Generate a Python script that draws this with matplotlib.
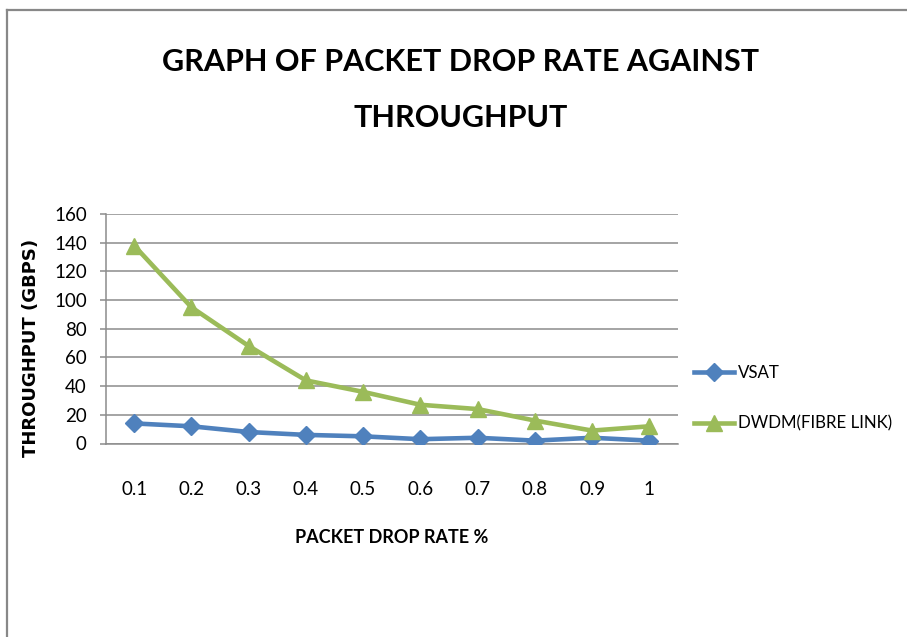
import matplotlib
matplotlib.use("Agg")
import matplotlib.pyplot as plt
from matplotlib.lines import Line2D

categories = ["0.1", "0.2", "0.3", "0.4", "0.5", "0.6", "0.7", "0.8", "0.9", "1"]
vsat = [14, 12, 8, 6, 5, 3, 4, 2, 4, 2]
dwdm = [138, 95, 68, 44, 36, 27, 24, 16, 9, 12]
yticks = [0, 20, 40, 60, 80, 100, 120, 140, 160]

NARROW = ["Lato", "DejaVu Sans"]
BLUE = "#4F81BD"
GREEN = "#9BBB59"
GRID = "#8C8C8C"

W, H = 907, 637
fig = plt.figure(figsize=(W / 100, H / 100), dpi=100)

# outer chart-area frame (top and left edges visible)
fig.add_artist(Line2D([7 / W, 7 / W], [0, 1 - 10 / H], transform=fig.transFigure,
                      color="#888888", lw=1.6))
fig.add_artist(Line2D([7 / W, 1], [1 - 10 / H, 1 - 10 / H], transform=fig.transFigure,
                      color="#888888", lw=1.6))

left, right = 105.5 / W, 678 / W
bottom, top = 1 - 443.5 / H, 1 - 214 / H
ax = fig.add_axes([left, bottom, right - left, top - bottom])

x = list(range(len(categories)))
l1, = ax.plot(x, vsat, color=BLUE, lw=3.3, marker="D", markersize=9.5,
              markeredgecolor=BLUE, label="VSAT", zorder=3)
l2, = ax.plot(x, dwdm, color=GREEN, lw=3.3, marker="^", markersize=12,
              markeredgecolor=GREEN, label="DWDM(FIBRE LINK)", zorder=3)

ax.set_xlim(-0.5, len(categories) - 0.5)
ax.set_ylim(0, 160)
ax.set_yticks(yticks)
ax.set_xticks(x)
ax.set_xticklabels(categories)
ax.yaxis.grid(True, color=GRID, lw=1.1)
ax.set_axisbelow(True)
for s in ["top", "right"]:
    ax.spines[s].set_visible(False)
for s in ["left", "bottom"]:
    ax.spines[s].set_color(GRID)
    ax.spines[s].set_linewidth(1.1)
ax.tick_params(axis="y", length=4.5, color=GRID, width=1.1, pad=9)
ax.tick_params(axis="x", length=0, pad=27)
for lab in ax.get_xticklabels() + ax.get_yticklabels():
    lab.set_family(NARROW)
    lab.set_fontsize(13.5)
    lab.set_color("black")

ax.set_xlabel("PACKET DROP RATE %", family=NARROW, fontsize=13, fontweight="bold",
              labelpad=22)
fig.text(31 / W, 1 - 348 / H, "THROUGHPUT (GBPS)", rotation=90, ha="center", va="center",
         family="DejaVu Sans", fontsize=13, fontweight="bold")

fig.text(461 / W, 1 - 62 / H, "GRAPH OF PACKET DROP RATE AGAINST", ha="center", va="center",
         family=NARROW, fontsize=22, fontweight="bold")
fig.text(461 / W, 1 - 118 / H, "THROUGHPUT", ha="center", va="center",
         family=NARROW, fontsize=22, fontweight="bold")

leg = fig.legend(handles=[l1, l2], loc="center left", bbox_to_anchor=(694 / W, 1 - 398 / H),
                 frameon=False, prop={"family": NARROW, "size": 12.2}, handlelength=2.35,
                 handletextpad=0.25, labelspacing=2.05, borderpad=0, borderaxespad=0)

fig.savefig("out.png", dpi=100)
